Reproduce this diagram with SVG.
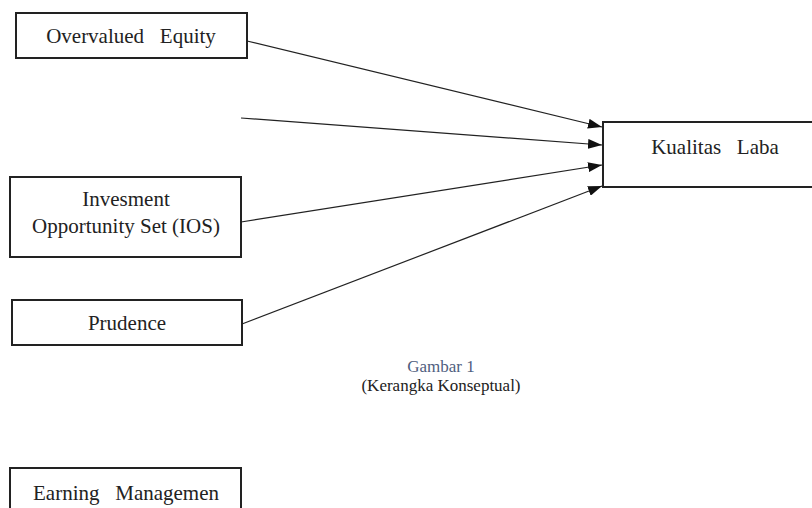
<svg xmlns="http://www.w3.org/2000/svg" width="812" height="508" viewBox="0 0 812 508">
<style>
.box{fill:#fff;stroke:#222;stroke-width:2}
.t{font-family:"Liberation Serif","Times New Roman",serif;font-size:21px;fill:#222;text-anchor:middle;white-space:pre}
.cap{font-size:17px}
.c{stroke:#222;stroke-width:1.2;fill:none;marker-end:url(#ah)}
</style>
<defs>
<marker id="ah" viewBox="0 0 14 10" refX="14" refY="5" markerWidth="14" markerHeight="10" markerUnits="userSpaceOnUse" orient="auto" preserveAspectRatio="none">
<path d="M0,0 L14,5 L0,10 z" fill="#111"/>
</marker>
</defs>
<rect width="812" height="508" fill="#fff"/>
<g id="connectors">
<line class="c" x1="247" y1="41" x2="602" y2="127"/>
<line class="c" x1="241" y1="118" x2="602" y2="145"/>
<line class="c" x1="241" y1="222" x2="602" y2="165"/>
<line class="c" x1="242" y1="324" x2="602" y2="186"/>
</g>
<g id="overvalued">
<rect class="box" x="16" y="13" width="231" height="45"/>
<text class="t" x="131" y="43" xml:space="preserve">Overvalued   Equity</text>
</g>
<g id="ios">
<rect class="box" x="10" y="177" width="231" height="80"/>
<text class="t" x="126" y="206">Invesment</text>
<text class="t" x="126" y="233">Opportunity Set (IOS)</text>
</g>
<g id="prudence">
<rect class="box" x="12" y="300" width="230" height="45"/>
<text class="t" x="127" y="330">Prudence</text>
</g>
<g id="kualitas">
<rect class="box" x="603" y="122" width="215" height="65"/>
<text class="t" x="715" y="154" xml:space="preserve">Kualitas   Laba</text>
</g>
<g id="caption">
<text class="t cap" x="441" y="372" style="fill:#4f6080">Gambar 1</text>
<text class="t cap" x="441" y="391">(Kerangka Konseptual)</text>
</g>
<g id="earning">
<rect class="box" x="10" y="468" width="231" height="50"/>
<text class="t" x="126" y="500" xml:space="preserve">Earning   Managemen</text>
</g>
</svg>
